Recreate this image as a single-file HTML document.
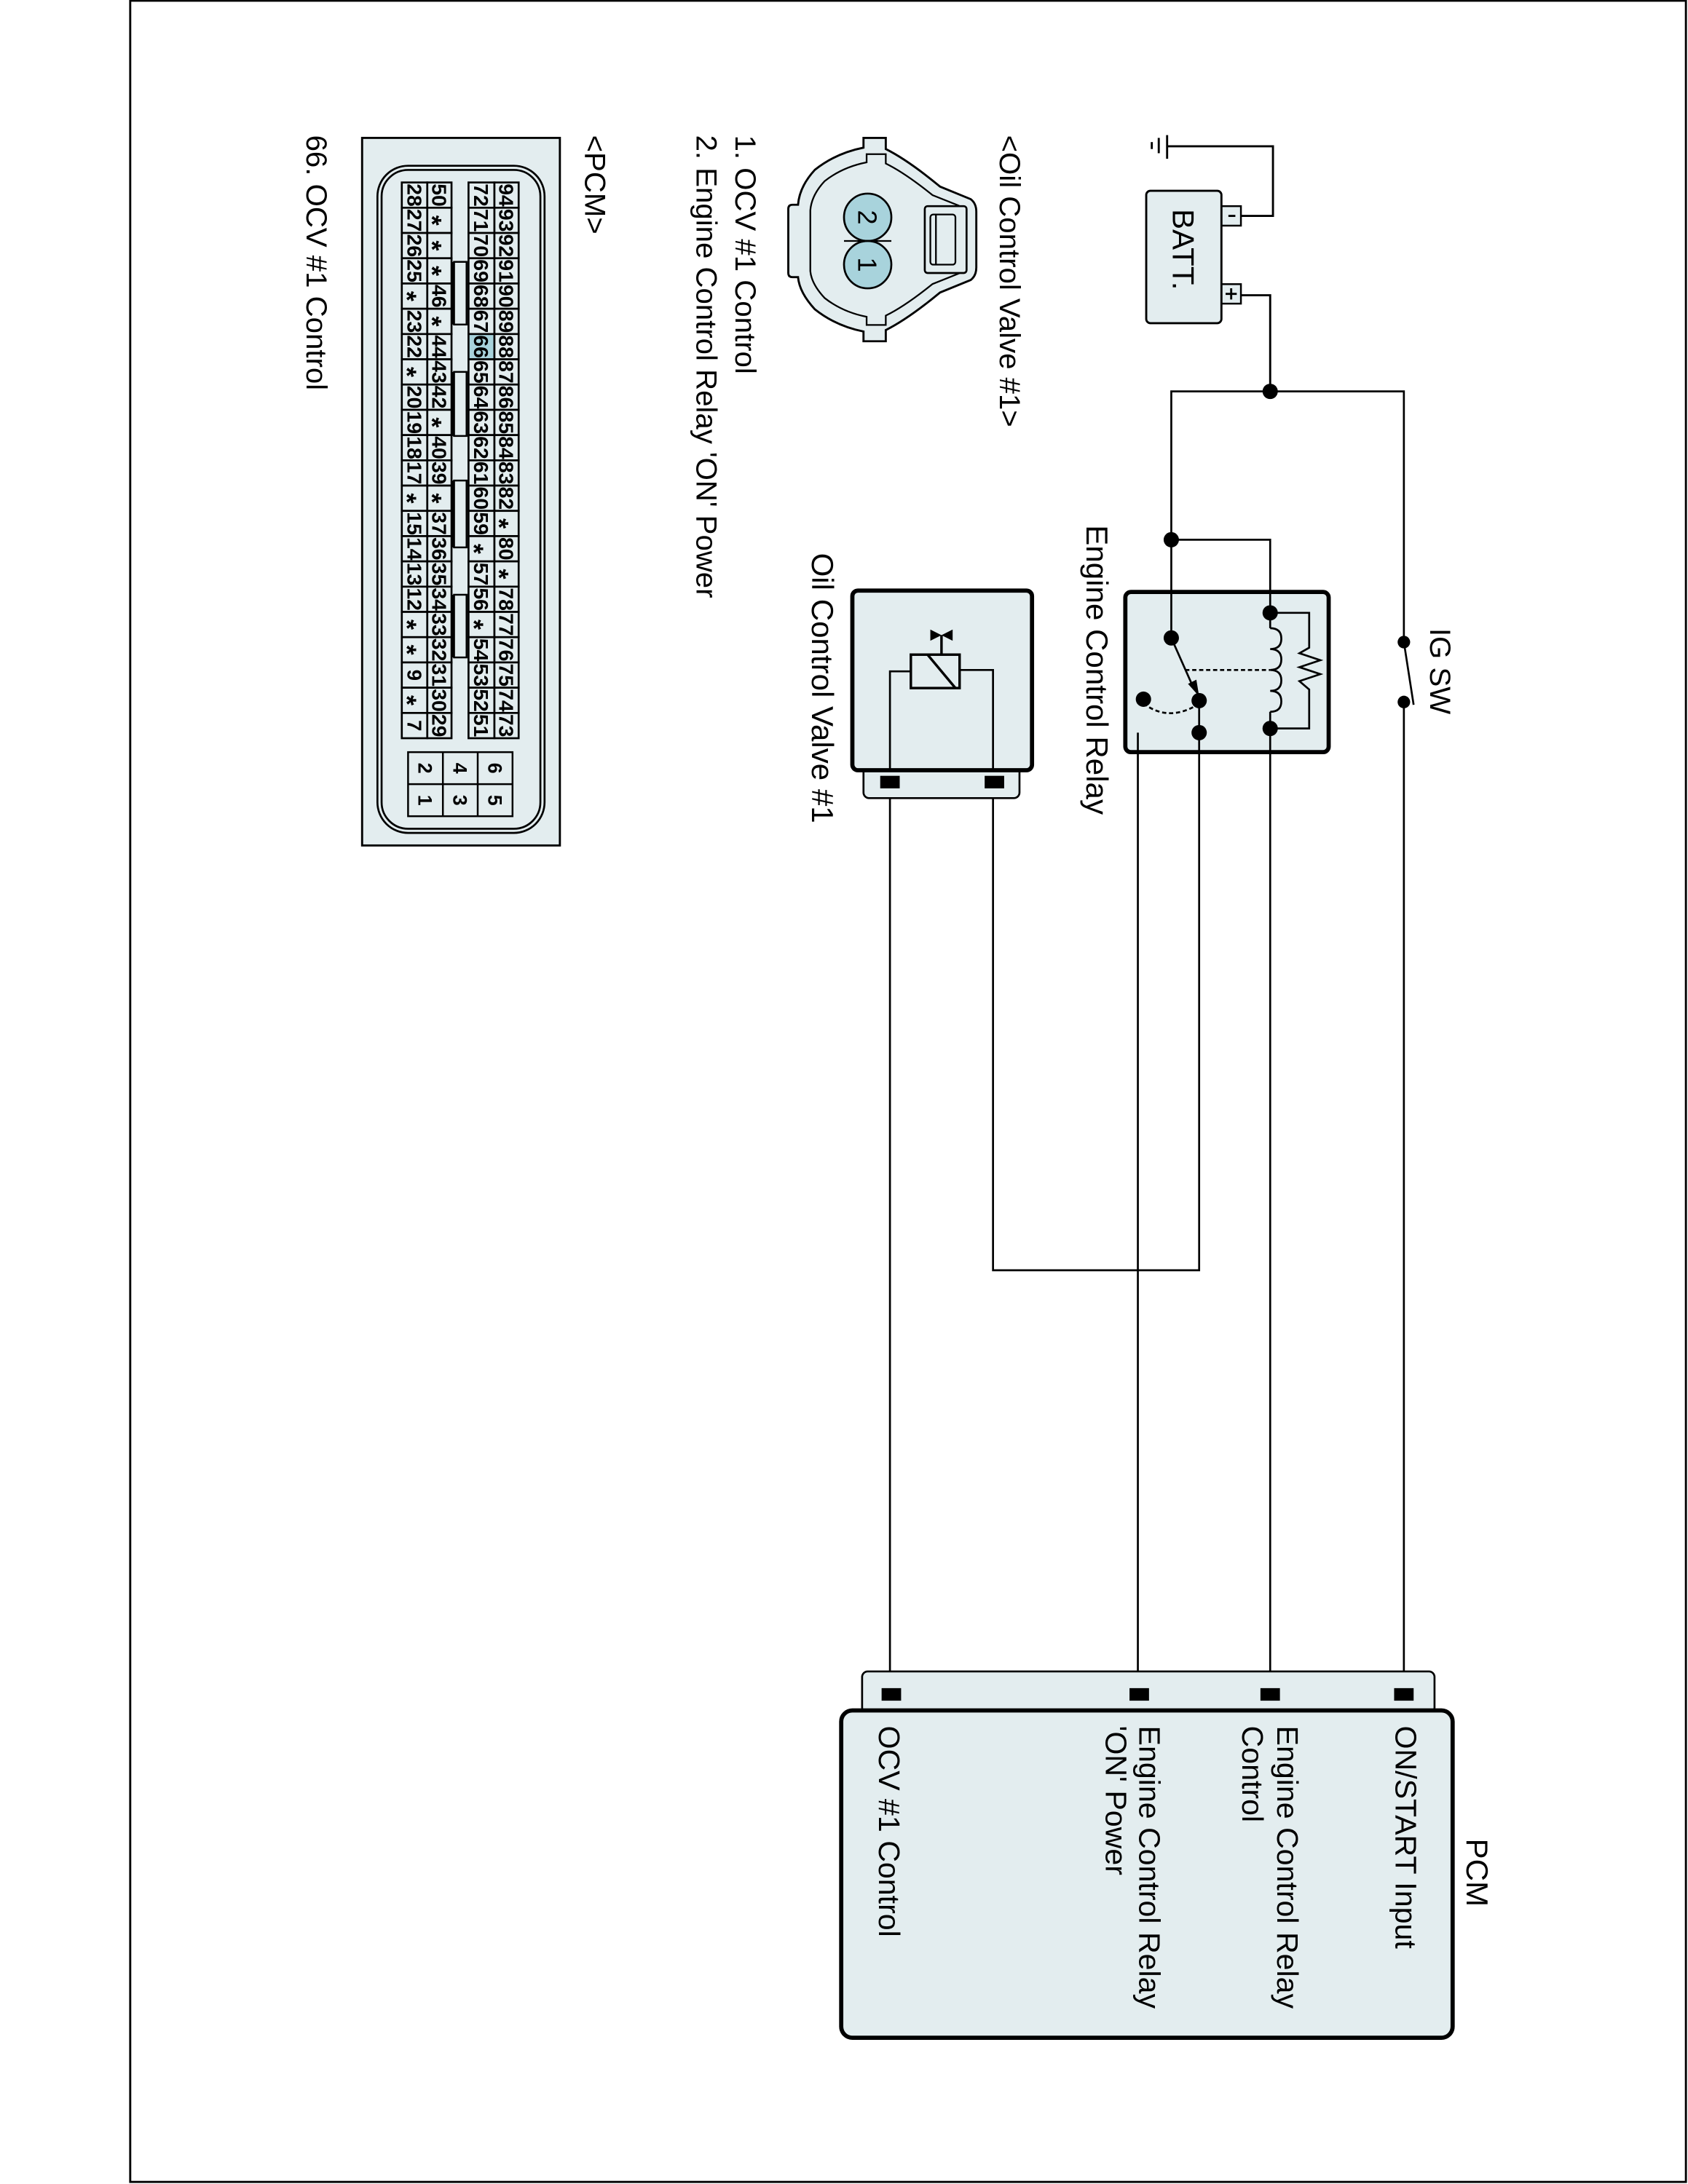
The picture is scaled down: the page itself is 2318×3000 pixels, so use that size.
<!DOCTYPE html>
<html><head><meta charset="utf-8"><style>
html,body{margin:0;padding:0;background:#fff;}
svg{display:block;}
text{font-family:"Liberation Sans",Arial,sans-serif;fill:#000;}
</style></head><body>
<svg width="2318" height="3000" viewBox="0 0 1212 1568" preserveAspectRatio="none" xmlns="http://www.w3.org/2000/svg">
<rect x="93.5" y="0.5" width="1117" height="1566" fill="none" stroke="#000" stroke-width="1.5"/>

<!-- ground + battery -->
<g stroke="#000" stroke-width="1.5" fill="none">
<line x1="838" y1="97" x2="838" y2="114"/>
<line x1="832" y1="99" x2="832" y2="110"/>
<line x1="827" y1="102" x2="827" y2="107"/>
<polyline points="838,105 914,105 914,155 891,155"/>
<polyline points="891,212 912,212 912,281"/>
</g>
<rect x="877" y="148" width="14" height="14" fill="#e3edef" stroke="#000" stroke-width="1.3"/>
<rect x="877" y="204" width="14" height="14" fill="#e3edef" stroke="#000" stroke-width="1.3"/>
<line x1="882" y1="155" x2="887" y2="155" stroke="#000" stroke-width="1.5"/>
<path d="M880,211 h8 M884,207 v8" stroke="#000" stroke-width="1.5"/>
<rect x="823" y="137" width="54" height="95" rx="3" fill="#e3edef" stroke="#000" stroke-width="1.5"/>
<text transform="translate(842,150) rotate(90)" font-size="22">BATT.</text>

<!-- main wiring -->
<g stroke="#000" stroke-width="1.4" fill="none">
<polyline points="841,458 841,281 1008,281 1008,461"/>
<line x1="1008" y1="504" x2="1008" y2="1212"/>
<line x1="1008" y1="461" x2="1015" y2="506"/>
<polyline points="841,387.5 912,387.5 912,440"/>
<line x1="912" y1="523" x2="912" y2="1212"/>
<polyline points="861,526 861,912 713,912 713,562"/>
<polyline points="861,526 817,526 817,1212"/>
<line x1="639" y1="562" x2="639" y2="1212"/>
</g>
<circle cx="912" cy="281" r="5.5"/>
<circle cx="841" cy="387.5" r="5.5"/>
<circle cx="1008" cy="461" r="4.5"/>
<circle cx="1008" cy="504" r="4.5"/>
<text transform="translate(1027,451) rotate(90)" font-size="21">IG SW</text>

<!-- relay -->
<rect x="808" y="425" width="146" height="115" rx="4" fill="#e3edef" stroke="#000" stroke-width="3"/>
<g stroke="#000" stroke-width="1.4" fill="none">
<line x1="841" y1="425" x2="841" y2="458"/>
<line x1="912" y1="425" x2="912" y2="440"/>
<line x1="912" y1="440" x2="912" y2="451"/>
<path d="M912,451 q8,0 8,7.5 q0,7.5 -8,7.5 q8,0 8,7.5 q0,7.5 -8,7.5 q8,0 8,7.5 q0,7.5 -8,7.5 q8,0 8,7.5 q0,7.5 -8,7.5"/>
<line x1="912" y1="511" x2="912" y2="540"/>
<polyline points="912,440 940,440 940,465 933,469 948,474 933,479 948,484 933,489 940,495 940,523 912,523"/>
<line x1="841" y1="458" x2="857" y2="494"/>
<line x1="851" y1="481" x2="912" y2="481" stroke-dasharray="3,2"/>
<path d="M821,505 Q838,518 858,507" stroke-dasharray="3,2"/>
<line x1="861" y1="503" x2="861" y2="540"/>
<line x1="817" y1="526" x2="817" y2="540"/>
</g>
<polygon points="861,500 853,491 859,488" fill="#000"/>
<circle cx="841" cy="458" r="5.5"/>
<circle cx="912" cy="440" r="5.5"/>
<circle cx="912" cy="523" r="5.5"/>
<circle cx="861" cy="503" r="5.5"/>
<circle cx="821" cy="502" r="5.5"/>
<circle cx="861" cy="526" r="5.5"/>
<text transform="translate(780,377) rotate(90)" font-size="22">Engine Control Relay</text>

<!-- OCV -->
<rect x="620" y="548" width="112" height="25" rx="4" fill="#e3edef" stroke="#000" stroke-width="1.4"/>
<rect x="612" y="424" width="129" height="129" rx="4" fill="#e3edef" stroke="#000" stroke-width="3"/>
<rect x="632" y="557" width="14" height="9"/>
<rect x="707" y="557" width="14" height="9"/>
<g stroke="#000" stroke-width="1.4" fill="none">
<polyline points="639,553 639,482 654,482"/>
<polyline points="689,481 713,481 713,553"/>
<rect x="654" y="470" width="35" height="24" stroke-width="1.8"/>
<line x1="666" y1="470" x2="686" y2="494" stroke-width="1.8"/>
<line x1="676" y1="456" x2="676" y2="470" stroke-width="1.8"/>
</g>
<polygon points="668,452 676,456 668,460" />
<polygon points="684,452 676,456 684,460" />
<text transform="translate(583,397) rotate(90)" font-size="22">Oil Control Valve #1</text>

<!-- PCM -->
<rect x="619" y="1200" width="411" height="30" rx="4" fill="#e3edef" stroke="#000" stroke-width="1.4"/>
<rect x="604" y="1228" width="439" height="235" rx="8" fill="#e3edef" stroke="#000" stroke-width="3"/>
<rect x="633" y="1212" width="14" height="9"/>
<rect x="811" y="1212" width="14" height="9"/>
<rect x="905" y="1212" width="14" height="9"/>
<rect x="1001" y="1212" width="14" height="9"/>
<g font-size="21.5">
<text transform="translate(1053,1320) rotate(90)" font-size="22">PCM</text>
<text transform="translate(1002,1239) rotate(90)">ON/START Input</text>
<text transform="translate(917,1239) rotate(90)">Engine Control Relay</text>
<text transform="translate(892,1239) rotate(90)">Control</text>
<text transform="translate(818,1239) rotate(90)">Engine Control Relay</text>
<text transform="translate(794,1239) rotate(90)">'ON' Power</text>
<text transform="translate(631,1239) rotate(90)">OCV #1 Control</text>
</g>

<!-- left side legend -->
<g font-size="21">
<text transform="translate(718,97) rotate(90)">&lt;Oil Control Valve #1&gt;</text>
<text transform="translate(528,97) rotate(90)">1. OCV #1 Control</text>
<text transform="translate(500,97) rotate(90)">2. Engine Control Relay 'ON' Power</text>
<text transform="translate(420,97) rotate(90)">&lt;PCM&gt;</text>
<text transform="translate(220,97) rotate(90)">66. OCV #1 Control</text>
</g>

<!-- OCV connector drawing -->
<path d="M620,99 H636 V107 Q652,115 675,134 L697,143 Q701,146 701,152 V192 Q701,198 697,201 L675,210 Q652,229 636,237 V245 H620 V238 Q600,234 585,222 Q574,210 573,199 H569 Q566,199 566,196 V150 Q566,147 569,147 H573 Q574,134 585,122 Q600,110 620,106 Z" fill="#e3edef" stroke="#000" stroke-width="1.5"/>
<path d="M620,99 H636 V107 Q652,115 675,134 L697,143 Q701,146 701,152 V192 Q701,198 697,201 L675,210 Q652,229 636,237 V245 H620 V238 Q600,234 585,222 Q574,210 573,199 V147 Q574,134 585,122 Q600,110 620,106 Z" transform="translate(636,172) scale(0.86,0.84) translate(-636,-172)" fill="none" stroke="#000" stroke-width="1.4"/>
<rect x="664" y="148" width="30" height="48" rx="2" fill="#e3edef" stroke="#000" stroke-width="1.4"/>
<rect x="668" y="154" width="18" height="36" rx="2" fill="none" stroke="#000" stroke-width="1.2"/>
<line x1="672" y1="154" x2="672" y2="190" stroke="#000" stroke-width="1.2"/>
<ellipse cx="623" cy="156" rx="17" ry="17" fill="#a8d3dc" stroke="#000" stroke-width="1.4"/>
<ellipse cx="623" cy="190" rx="17" ry="17" fill="#a8d3dc" stroke="#000" stroke-width="1.4"/>
<line x1="606" y1="173" x2="640" y2="173" stroke="#000" stroke-width="1.2"/>
<text transform="translate(623,156) rotate(90)" font-size="19" text-anchor="middle" dy="0.36em">2</text>
<text transform="translate(623,190) rotate(90)" font-size="19" text-anchor="middle" dy="0.36em">1</text>

<!-- PCM connector -->
<rect x="260" y="99" width="142" height="508" fill="#e3edef" stroke="#000" stroke-width="1.5"/>
<rect x="271" y="119" width="120" height="479" rx="22" fill="none" stroke="#000" stroke-width="1.4"/>
<rect x="274" y="122" width="114" height="473" rx="19" fill="none" stroke="#000" stroke-width="1.4"/>
<g id="grid"></g>
<g stroke="#000" stroke-width="1.3" fill="#e3edef">
<rect x="293" y="540" width="75" height="46"/>
<line x1="318" y1="540" x2="318" y2="586"/>
<line x1="343" y1="540" x2="343" y2="586"/>
<line x1="293" y1="563" x2="368" y2="563"/>
<rect x="326" y="188" width="9" height="45"/>
<rect x="326" y="267" width="9" height="46"/>
<rect x="326" y="345" width="9" height="48"/>
<rect x="326" y="427" width="9" height="45"/>
</g>
<g stroke="#000" stroke-width="2.2">
<line x1="325.5" y1="188" x2="325.5" y2="233"/>
<line x1="325.5" y1="267" x2="325.5" y2="313"/>
<line x1="325.5" y1="345" x2="325.5" y2="393"/>
<line x1="325.5" y1="427" x2="325.5" y2="472"/>
</g>
<g font-size="14" text-anchor="middle" font-weight="bold">
<text transform="translate(305.5,551.5) rotate(90)" dy="0.36em">2</text>
<text transform="translate(305.5,574.5) rotate(90)" dy="0.36em">1</text>
<text transform="translate(330.5,551.5) rotate(90)" dy="0.36em">4</text>
<text transform="translate(330.5,574.5) rotate(90)" dy="0.36em">3</text>
<text transform="translate(355.5,551.5) rotate(90)" dy="0.36em">6</text>
<text transform="translate(355.5,574.5) rotate(90)" dy="0.36em">5</text>
</g>
<script>
(function(){
var ns="http://www.w3.org/2000/svg";
var g=document.getElementById("grid");
var cols=[
 {x0:288.5,x1:306.8,v:["28","27","26","25","*","23","22","*","20","19","18","17","*","15","14","13","12","*","*","9","*","7"]},
 {x0:306.8,x1:324.2,v:["50","*","*","*","46","*","44","43","42","*","40","39","*","37","36","35","34","33","32","31","30","29"]},
 {x0:336.4,x1:355,v:["72","71","70","69","68","67","66","65","64","63","62","61","60","59","*","57","56","*","54","53","52","51"]},
 {x0:355,x1:372.4,v:["94","93","92","91","90","89","88","87","86","85","84","83","82","*","80","*","78","77","76","75","74","73"]}
];
var y0=131,h=(530-131)/22;
cols.forEach(function(c){
 c.v.forEach(function(t,i){
  var r=document.createElementNS(ns,"rect");
  r.setAttribute("x",c.x0);r.setAttribute("y",y0+i*h);
  r.setAttribute("width",c.x1-c.x0);r.setAttribute("height",h);
  r.setAttribute("fill",t==="66"?"#a8d3dc":"#e3edef");
  r.setAttribute("stroke","#000");r.setAttribute("stroke-width","1.4");
  g.appendChild(r);
  var tx=document.createElementNS(ns,"text");
  var cx=(c.x0+c.x1)/2, cy=y0+i*h+h/2;
  tx.setAttribute("transform","translate("+cx+","+cy+") rotate(90)");
  tx.setAttribute("text-anchor","middle");
  tx.setAttribute("dy",t==="*"?"0.62em":"0.36em");
  tx.setAttribute("font-size",t==="*"?"19":"14.5");
  tx.setAttribute("font-weight","bold");
  if(t.length===2){tx.setAttribute("textLength","16.5");tx.setAttribute("lengthAdjust","spacingAndGlyphs");}
  tx.textContent=t;
  g.appendChild(tx);
 });
});
})();
</script>
</svg>
</body></html>
